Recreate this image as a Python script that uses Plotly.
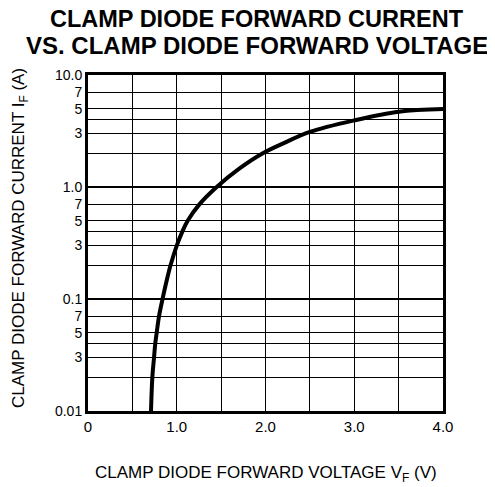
import plotly.graph_objects as go

# Curve
VF = [0.71, 0.725, 0.744, 0.758, 0.774, 0.80, 0.84, 0.89, 0.93, 1.0, 1.063,
      1.123, 1.255, 1.45, 1.7, 1.97, 2.2, 2.5, 3.0, 3.5, 4.0]
IF = [0.01, 0.02, 0.03, 0.04, 0.05, 0.07, 0.1, 0.15, 0.2, 0.3, 0.4,
      0.5, 0.7, 1.0, 1.45, 2.0, 2.45, 3.1, 3.93, 4.7, 4.97]

X_TICK_VALS = [0, 1, 2, 3, 4]
X_TICK_TEXT = ["0", "1.0", "2.0", "3.0", "4.0"]
Y_TICK_VALS = [0.01, 0.02, 0.03, 0.04, 0.05, 0.07, 0.1, 0.2, 0.3, 0.4, 0.5, 0.7,
               1, 2, 3, 4, 5, 7, 10]
Y_TICK_TEXT = ["0.01", " ", "3", " ", "5", "7", "0.1", " ", "3", " ", "5", "7",
               "1.0", " ", "3", " ", "5", "7", "10.0"]
DECADES = [0.1, 1.0]

TITLE_1 = "CLAMP DIODE FORWARD CURRENT"
TITLE_2 = "VS. CLAMP DIODE FORWARD VOLTAGE"
X_TITLE = "CLAMP DIODE FORWARD VOLTAGE V<sub>F</sub> (V)"
Y_TITLE = "CLAMP DIODE FORWARD CURRENT I<sub>F</sub> (A)"

FONT = "Liberation Sans, Arial, sans-serif"

# the page body adds an 8px offset; size the figure so it fills the 495x487 window
W, H = 495 - 8, 487 - 8
ML, MT, MR, MB = 80, 67, 52, 76

fig = go.Figure()
fig.add_trace(go.Scatter(x=VF, y=IF, mode="lines",
                         line=dict(color="black", width=4, shape="spline", smoothing=1.0),
                         hoverinfo="skip", showlegend=False))

for d in DECADES:
    fig.add_shape(type="line", xref="paper", x0=0, x1=1, yref="y", y0=d, y1=d,
                  line=dict(color="black", width=2.2), layer="below")

fig.update_xaxes(range=[0, 4], tickvals=X_TICK_VALS, ticktext=X_TICK_TEXT,
                 showgrid=True, gridcolor="black", gridwidth=1.3,
                 minor=dict(dtick=0.5, showgrid=True, gridcolor="black", gridwidth=1.3),
                 showline=True, linecolor="black", linewidth=3, mirror=True,
                 zeroline=False, ticks="",
                 tickfont=dict(family=FONT, size=15, color="black"))
fig.update_yaxes(type="log", range=[-2, 1], tickvals=Y_TICK_VALS, ticktext=Y_TICK_TEXT,
                 showgrid=True, gridcolor="black", gridwidth=1.3,
                 showline=True, linecolor="black", linewidth=3, mirror=True,
                 zeroline=False, ticks="",
                 tickfont=dict(family=FONT, size=14, color="black"))

PW, PH = W - ML - MR, H - MT - MB
annos = [
    dict(text="<b>" + TITLE_1 + "</b>", x=(256.5 - 88) / PW, y=1 + (75 - 19.3) / PH,
         font=dict(size=23.5)),
    dict(text="<b>" + TITLE_2 + "</b>", x=(256.5 - 88) / PW, y=1 + (75 - 45.2) / PH,
         font=dict(size=24)),
    dict(text=X_TITLE, x=(266 - 88) / PW, y=-(474 - 411) / PH, font=dict(size=17)),
    dict(text=Y_TITLE, x=(20 - 88) / PW, y=(411 - 238) / PH, font=dict(size=17),
         textangle=-90),
]
for a in annos:
    a["font"].update(family=FONT, color="black")
    fig.add_annotation(xref="paper", yref="paper", showarrow=False,
                       xanchor="center", yanchor="middle", **a)

fig.update_layout(width=W, height=H, margin=dict(l=ML, r=MR, t=MT, b=MB),
                  paper_bgcolor="white", plot_bgcolor="white", showlegend=False)

fig.write_html("out.html")
